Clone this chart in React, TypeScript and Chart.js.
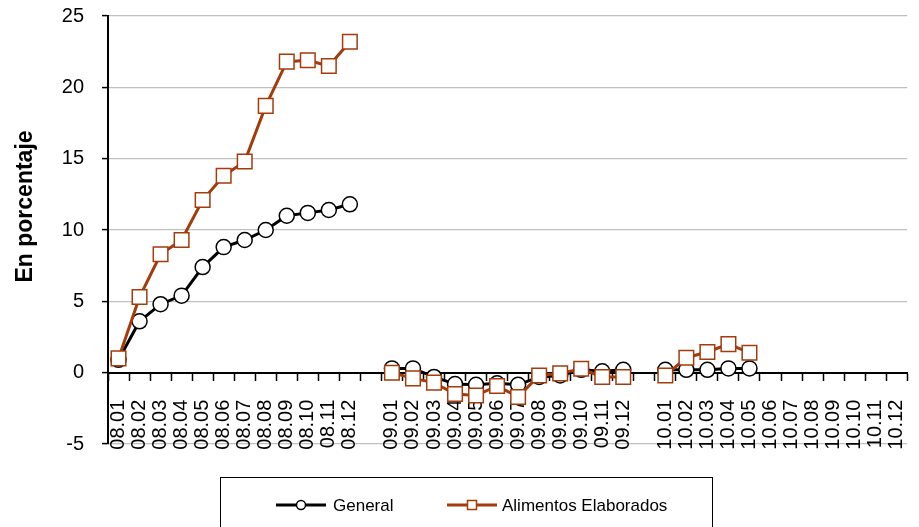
import React, { useEffect, useRef } from "react";
import { Chart, registerables } from "chart.js";

Chart.register(...registerables);

const months = ["01", "02", "03", "04", "05", "06", "07", "08", "09", "10", "11", "12"];
const labels08 = months.map((m) => "08." + m);
const labels09 = months.map((m) => "09." + m);
const labels10 = months.map((m) => "10." + m);
const categories = [...labels08, "", ...labels09, "", ...labels10];

const general08 = [0.9, 3.6, 4.8, 5.4, 7.4, 8.8, 9.3, 10.0, 11.0, 11.2, 11.4, 11.8];
const general09 = [0.3, 0.3, -0.3, -0.8, -0.85, -0.75, -0.85, -0.3, -0.2, 0.2, 0.1, 0.2];
const general10 = [0.2, 0.2, 0.2, 0.3, 0.3, null, null, null, null, null, null, null];

const alim08 = [1.0, 5.3, 8.3, 9.3, 12.1, 13.8, 14.8, 18.7, 21.8, 21.9, 21.5, 23.2];
const alim09 = [0.0, -0.4, -0.7, -1.5, -1.6, -0.93, -1.7, -0.2, -0.05, 0.27, -0.3, -0.3];
const alim10 = [-0.2, 1.05, 1.45, 2.0, 1.4, null, null, null, null, null, null, null];

const yTicks = { min: -5, max: 25, step: 5 };

const seriesNames = ["General", "Alimentos Elaborados"];
const BLACK = "#000000";
const BROWN = "#A33B0B";
const FONT = "'Liberation Sans', Arial, sans-serif";

const legendPlugin = {
  id: "boxLegend",
  afterDraw(chart: any) {
    const ctx = chart.ctx;
    ctx.save();
    ctx.strokeStyle = "#000";
    ctx.lineWidth = 1;
    ctx.strokeRect(220.5, 477.5, 492, 60);
    const y = 505;
    const items = [
      { x0: 276, textX: 333, ds: chart.data.datasets[0] },
      { x0: 447, textX: 502, ds: chart.data.datasets[1] },
    ];
    items.forEach((it) => {
      ctx.strokeStyle = it.ds.borderColor;
      ctx.lineWidth = 3;
      ctx.beginPath();
      ctx.moveTo(it.x0, y);
      ctx.lineTo(it.x0 + 50, y);
      ctx.stroke();
      const cx = it.x0 + 25;
      ctx.fillStyle = "#fff";
      ctx.lineWidth = 1.5;
      ctx.beginPath();
      if (it.ds.pointStyle === "rect") {
        ctx.rect(cx - 4.5, y - 4.5, 9, 9);
      } else {
        ctx.arc(cx, y, 4.5, 0, Math.PI * 2);
      }
      ctx.fill();
      ctx.stroke();
      ctx.fillStyle = "#000";
      ctx.font = "17px " + FONT;
      ctx.textBaseline = "middle";
      ctx.textAlign = "left";
      ctx.fillText(it.ds.label, it.textX, y + 1);
    });
    const ca = chart.chartArea;
    ctx.translate(26, ca.top + (ca.bottom - ca.top) * 0.445);
    ctx.rotate(-Math.PI / 2);
    ctx.font = "bold 23px " + FONT;
    ctx.textAlign = "center";
    ctx.textBaseline = "middle";
    ctx.fillStyle = "#000";
    ctx.fillText("En porcentaje", 0, 0);
    ctx.restore();
  },
};

export default function App() {
  const ref = useRef<HTMLCanvasElement | null>(null);

  useEffect(() => {
    document.body.style.margin = "0";
    const canvas = ref.current;
    if (!canvas) return;
    const chart = new Chart(canvas, {
      type: "line",
      data: {
        labels: categories,
        datasets: [
          {
            label: seriesNames[0],
            data: [...general08, null, ...general09, null, ...general10],
            borderColor: BLACK,
            backgroundColor: "#fff",
            borderWidth: 3,
            pointStyle: "circle",
            pointRadius: 7.5,
            pointBorderWidth: 1.5,
            pointBackgroundColor: "#fff",
            pointBorderColor: BLACK,
            spanGaps: false,
            tension: 0,
            order: 1,
          },
          {
            label: seriesNames[1],
            data: [...alim08, null, ...alim09, null, ...alim10],
            borderColor: BROWN,
            backgroundColor: "#fff",
            borderWidth: 3,
            pointStyle: "rect",
            pointRadius: 10.3,
            pointBorderWidth: 1.5,
            pointBackgroundColor: "#fff",
            pointBorderColor: BROWN,
            spanGaps: false,
            tension: 0,
            order: 0,
          },
        ] as any,
      },
      options: {
        animation: false,
        responsive: false,
        maintainAspectRatio: false,
        layout: { padding: { top: 16, right: 10, left: 0, bottom: 83 } },
        plugins: {
          legend: { display: false },
          tooltip: { enabled: false },
          title: { display: false },
        },
        scales: {
          x: {
            type: "category",
            position: { y: 0 } as any,
            offset: true,
            grid: {
              offset: true,
              drawOnChartArea: false,
              drawTicks: true,
              tickLength: 7,
              tickColor: "#000",
              tickWidth: 1.5,
            },
            border: { display: true, color: "#000", width: 2 },
            ticks: {
              autoSkip: false,
              maxRotation: 90,
              minRotation: 90,
              padding: 20,
              color: "#000",
              font: { family: FONT, size: 20 },
            },
            afterFit: (scale: any) => {
              scale.paddingLeft = 0;
              scale.paddingRight = 0;
              scale.paddingTop = 0;
              scale.paddingBottom = 0;
            },
          },
          y: {
            min: yTicks.min,
            max: yTicks.max,
            ticks: {
              stepSize: yTicks.step,
              padding: 18,
              color: "#000",
              font: { family: FONT, size: 20 },
            },
            grid: {
              color: "#c0c0c0",
              lineWidth: 1.2,
              tickLength: 6,
              tickColor: "#000",
              tickWidth: 1.5,
            },
            border: { display: true, color: "#000", width: 2 },
            afterFit: (scale: any) => {
              scale.width = 108;
              scale.paddingTop = 0;
              scale.paddingBottom = 0;
            },
          },
        },
      },
      plugins: [legendPlugin],
    });
    return () => chart.destroy();
  }, []);

  return (
    <div style={{ width: 919, height: 527, background: "#fff" }}>
      <canvas ref={ref} width={919} height={527} style={{ display: "block", width: 919, height: 527 }} />
    </div>
  );
}
